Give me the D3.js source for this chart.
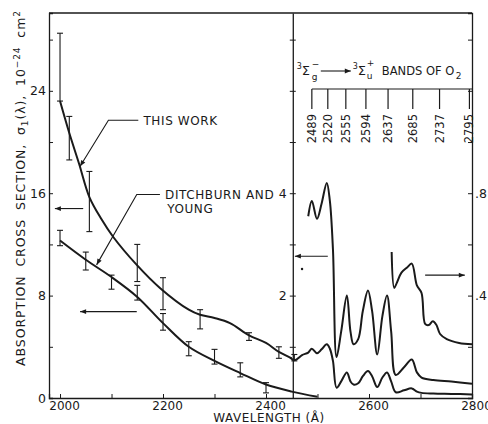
<!DOCTYPE html>
<html>
<head>
<meta charset="utf-8">
<script src="https://cdn.jsdelivr.net/npm/d3@7/dist/d3.min.js"></script>
<style>
  body { margin: 0; background: #fff; }
  svg text { font-family: "DejaVu Sans", sans-serif; fill: #1a1a1a; }
</style>
</head>
<body>
<svg id="chart"></svg>
<script>
// wavelength in Angstrom, cross section in 1e-24 cm^2
const thisWorkWl  = [2000, 2018, 2037, 2057, 2080, 2103, 2149, 2194, 2250, 2272, 2300, 2330, 2367, 2400, 2425, 2450];
const thisWorkVal = [23.2, 20.7, 18.3, 15.7, 14.0, 12.6, 10.4, 8.6, 6.9, 6.5, 6.25, 5.85, 4.9, 4.3, 3.6, 3.1];

const thisWorkErrWl = [2000, 2018, 2057, 2150, 2200, 2272, 2367, 2425, 2455];
const thisWorkErrLo = [23.2, 18.6, 13.0, 9.1, 6.9, 5.4, 4.5, 3.1, 2.9];
const thisWorkErrHi = [28.5, 22.0, 17.7, 12.0, 9.4, 6.9, 5.1, 4.0, 3.4];

// Ditchburn and Young
const dyWl  = [2000, 2050, 2100, 2150, 2200, 2250, 2300, 2350, 2400, 2450, 2500];
const dyVal = [12.3, 10.8, 9.45, 7.9, 5.85, 4.0, 2.9, 1.95, 1.05, 0.5, 0.1];
const dyErrWl = [2000, 2050, 2100, 2150, 2200, 2250, 2300, 2350, 2400];
const dyErrLo = [11.9, 10.0, 8.5, 7.65, 5.3, 3.3, 2.65, 1.65, 0.4];
const dyErrHi = [13.1, 11.4, 9.6, 8.8, 6.6, 4.4, 3.8, 2.75, 1.2];

// band region, this work: read on left axis, and again on the expanded middle axis
const bandWl  = [2447, 2456, 2470, 2482, 2489, 2499, 2508, 2518, 2524, 2530, 2537, 2546, 2557, 2564, 2570, 2579, 2588, 2598, 2606, 2616, 2626, 2635, 2643, 2652, 2668, 2683, 2693, 2702, 2725, 2760, 2800];
const bandVal = [3.15, 2.95, 3.35, 3.55, 3.85, 3.5, 3.8, 4.2, 3.85, 2.9, 0.8, 1.3, 2.0, 1.3, 1.05, 1.15, 1.7, 2.1, 1.7, 0.85, 1.6, 2.0, 1.3, 0.45, 0.6, 0.75, 0.5, 0.4, 0.35, 0.32, 0.28];
const bandExpandedFrom = 2482;

// long wavelength tail, read on the right axis
const tailWl  = [2644, 2649, 2654, 2663, 2674, 2683, 2693, 2702, 2709, 2716, 2724, 2731, 2738, 2751, 2775, 2800];
const tailVal = [0.57, 0.43, 0.45, 0.49, 0.51, 0.525, 0.44, 0.41, 0.29, 0.285, 0.30, 0.285, 0.25, 0.23, 0.215, 0.21];

const bandHeads = [2489, 2520, 2555, 2594, 2637, 2685, 2737, 2795];

const xTicks = [2000, 2100, 2200, 2300, 2400, 2500, 2600, 2700, 2800];
const xLabels = [2000, 2200, 2400, 2600, 2800];
const leftTicks = [0, 4, 8, 12, 16, 20, 24, 28];
const leftLabels = [0, 8, 16, 24];
const midTicks = [1, 2, 3, 4, 5, 6, 7];
const midLabels = [2, 4];
const rightTicks = [0.2, 0.4, 0.6, 0.8, 1.0, 1.2, 1.4];
const rightLabels = [0.4, 0.8];
const midAxisWl = 2452;

class crossSectionChart {
  constructor(_config) {
    this.config = {
      parentElement: _config.parentElement,
      containerWidth: _config.containerWidth || 488,
      containerHeight: _config.containerHeight || 424,
      margin: _config.margin || {top: 13, right: 16, bottom: 26, left: 49}
    };
    this.initVis();
  }

  initVis() {
    let vis = this;
    vis.width = vis.config.containerWidth - vis.config.margin.left - vis.config.margin.right;
    vis.height = vis.config.containerHeight - vis.config.margin.top - vis.config.margin.bottom;

    vis.xScale = d3.scaleLinear().domain([1978.6, 2800]).range([0, vis.width]);
    vis.yScale = d3.scaleLinear().domain([0, 30.08]).range([vis.height, 0]);
    vis.yMid = d3.scaleLinear().domain([0, 30.08 / 4]).range([vis.height, 0]);
    vis.yRight = d3.scaleLinear().domain([0, 30.08 / 20]).range([vis.height, 0]);

    vis.svg = d3.select(vis.config.parentElement)
      .attr('width', vis.config.containerWidth)
      .attr('height', vis.config.containerHeight);

    vis.svg.append('defs').append('marker')
      .attr('id', 'head')
      .attr('viewBox', '0 0 10 10')
      .attr('refX', 10).attr('refY', 5)
      .attr('markerWidth', 9).attr('markerHeight', 6)
      .attr('markerUnits', 'userSpaceOnUse')
      .attr('orient', 'auto')
      .append('path').attr('d', 'M0,1L10,5L0,9Z').attr('fill', '#1a1a1a');

    vis.chart = vis.svg.append('g')
      .attr('transform', `translate(${vis.config.margin.left},${vis.config.margin.top})`);

    vis.renderVis();
  }

  renderVis() {
    let vis = this;
    const x = vis.xScale;
    const ink = '#1a1a1a';

    // axes
    vis.chart.append('g')
      .attr('transform', `translate(0,${vis.height})`)
      .call(d3.axisBottom(x).tickValues(xTicks).tickSize(-4).tickPadding(3)
        .tickFormat(d => xLabels.includes(d) ? d : ''))
      .call(g => g.selectAll('text').attr('dx', 4).style('font-size', '12px'));

    vis.chart.append('g')
      .call(d3.axisLeft(vis.yScale).tickValues(leftTicks).tickSize(-4).tickPadding(3)
        .tickFormat(d => leftLabels.includes(d) ? d : ''))
      .call(g => g.selectAll('text').style('font-size', '12.5px'));

    const xm = x(midAxisWl);
    vis.chart.append('g')
      .attr('transform', `translate(${xm},0)`)
      .call(d3.axisLeft(vis.yMid).tickValues(midTicks).tickSizeInner(3).tickSizeOuter(0).tickPadding(3)
        .tickFormat(d => midLabels.includes(d) ? d : ''))
      .call(g => g.selectAll('.tick line').attr('x2', 3).attr('x1', -3))
      .call(g => g.selectAll('text').style('font-size', '12.5px'));

    vis.chart.append('g')
      .attr('transform', `translate(${vis.width},0)`)
      .call(d3.axisRight(vis.yRight).tickValues(rightTicks).tickSize(-4).tickPadding(3)
        .tickFormat(d => rightLabels.includes(d) ? d3.format('.1f')(d).replace(/^0/, '') : ''))
      .call(g => g.selectAll('text').style('font-size', '12.5px'));

    vis.chart.selectAll('.domain').attr('stroke', ink).attr('stroke-width', 1.3);
    vis.chart.selectAll('.tick line').attr('stroke', ink);
    vis.chart.selectAll('.tick text').attr('fill', ink);

    // top border
    vis.chart.append('line')
      .attr('x1', 0).attr('x2', vis.width).attr('y1', 0).attr('y2', 0)
      .attr('stroke', ink).attr('stroke-width', 1.3);

    // curves
    const lineOn = ys => d3.line()
      .x(d => x(d[0])).y(d => ys(d[1]))
      .curve(d3.curveCatmullRom.alpha(0.5));

    const curves = [
      {data: d3.zip(thisWorkWl, thisWorkVal), ys: vis.yScale},
      {data: d3.zip(dyWl, dyVal), ys: vis.yScale},
      {data: d3.zip(bandWl, bandVal), ys: vis.yScale},
      {data: d3.zip(bandWl, bandVal).filter(d => d[0] >= bandExpandedFrom), ys: vis.yMid},
      {data: d3.zip(tailWl, tailVal), ys: vis.yRight}
    ];
    vis.chart.selectAll('.curve')
      .data(curves)
      .join('path')
      .attr('class', 'curve')
      .attr('d', c => lineOn(c.ys)(c.data))
      .attr('fill', 'none')
      .attr('stroke', ink)
      .attr('stroke-width', 2)
      .attr('stroke-linejoin', 'round');

    // error bars
    const bars = d3.zip(thisWorkErrWl, thisWorkErrLo, thisWorkErrHi)
      .concat(d3.zip(dyErrWl, dyErrLo, dyErrHi));
    const barG = vis.chart.selectAll('.err')
      .data(bars)
      .join('g')
      .attr('class', 'err')
      .attr('stroke', ink)
      .attr('stroke-width', 1.1);
    barG.append('line')
      .attr('x1', d => x(d[0])).attr('x2', d => x(d[0]))
      .attr('y1', d => vis.yScale(d[1])).attr('y2', d => vis.yScale(d[2]));
    barG.append('line')
      .attr('x1', d => x(d[0]) - 3).attr('x2', d => x(d[0]) + 3)
      .attr('y1', d => vis.yScale(d[1])).attr('y2', d => vis.yScale(d[1]));
    barG.append('line')
      .attr('x1', d => x(d[0]) - 3).attr('x2', d => x(d[0]) + 3)
      .attr('y1', d => vis.yScale(d[2])).attr('y2', d => vis.yScale(d[2]));

    // band head bracket
    const bracketY = 76;
    vis.chart.append('line')
      .attr('x1', x(bandHeads[0])).attr('x2', vis.width)
      .attr('y1', bracketY).attr('y2', bracketY)
      .attr('stroke', ink).attr('stroke-width', 1.2);
    vis.chart.selectAll('.head')
      .data(bandHeads)
      .join('line')
      .attr('class', 'head')
      .attr('x1', d => x(d)).attr('x2', d => x(d))
      .attr('y1', bracketY).attr('y2', bracketY + 20)
      .attr('stroke', ink).attr('stroke-width', 1.2);
    vis.chart.selectAll('.headLabel')
      .data(bandHeads)
      .join('text')
      .attr('class', 'headLabel')
      .attr('transform', d => `translate(${x(d)},${bracketY + 25}) rotate(-90)`)
      .attr('text-anchor', 'end')
      .attr('dy', '0.35em')
      .style('font-size', '11.5px')
      .text(d => d);

    // band title
    const bt = vis.chart.append('g').attr('transform', `translate(${xm + 4},${bracketY - 14})`);
    const piece = (px, py, s, size) => bt.append('text').attr('x', px).attr('y', py)
      .style('font-size', size + 'px').text(s);
    piece(0, -6, '3', 8);
    piece(5, 0, 'Σ', 13);
    piece(15, 5, 'g', 9);
    piece(15, -8, '−', 9);
    bt.append('line').attr('x1', 24).attr('x2', 54).attr('y1', -4).attr('y2', -4)
      .attr('stroke', ink).attr('stroke-width', 1.1).attr('marker-end', 'url(#head)');
    piece(56, -6, '3', 8);
    piece(61, 0, 'Σ', 13);
    piece(70, 4, 'u', 9);
    piece(70, -9, '+', 9);
    piece(85, 0, 'BANDS OF O', 11.5);
    piece(159, 4, '2', 9);

    // leaders and axis arrows, in data units
    const leader = (pts, ys) => vis.chart.append('path')
      .attr('d', d3.line().x(d => x(d[0])).y(d => ys(d[1]))(pts))
      .attr('fill', 'none').attr('stroke', ink).attr('stroke-width', 1.1)
      .attr('marker-end', 'url(#head)');

    leader([[2152, 21.7], [2094, 21.7], [2039, 18.1]], vis.yScale);
    leader([[2194, 15.9], [2149, 15.9], [2071, 10.4]], vis.yScale);
    leader([[2045, 14.8], [1990, 14.8]], vis.yScale);
    leader([[2149, 6.75], [2039, 6.75]], vis.yScale);
    leader([[2520, 2.77], [2456, 2.77]], vis.yMid);
    leader([[2709, 0.48], [2786, 0.48]], vis.yRight);

    vis.chart.append('circle')
      .attr('cx', x(2470)).attr('cy', vis.yMid(2.52)).attr('r', 1.2).attr('fill', ink);

    vis.chart.append('text')
      .attr('x', x(2162)).attr('y', vis.yScale(21.7) + 4.5)
      .style('font-size', '12px').style('letter-spacing', '0.6px')
      .text('THIS WORK');
    vis.chart.append('text')
      .attr('x', x(2204)).attr('y', vis.yScale(15.9) + 4.5)
      .style('font-size', '12px').style('letter-spacing', '0.6px')
      .text('DITCHBURN AND');
    vis.chart.append('text')
      .attr('x', x(2208)).attr('y', vis.yScale(15.9) + 18.5)
      .style('font-size', '12px').style('letter-spacing', '0.6px')
      .text('YOUNG');

    // axis titles
    vis.svg.append('text')
      .attr('x', 269).attr('y', 422)
      .attr('text-anchor', 'middle')
      .style('font-size', '12px').style('letter-spacing', '0.5px')
      .text('WAVELENGTH (Å)');

    const yt = vis.svg.append('text')
      .attr('transform', 'translate(25,188) rotate(-90)')
      .attr('text-anchor', 'middle')
      .style('font-size', '12.5px').style('letter-spacing', '0.9px').style('word-spacing', '4px');
    yt.append('tspan').text('ABSORPTION CROSS SECTION, σ');
    yt.append('tspan').attr('dy', 3).style('font-size', '9px').text('1');
    yt.append('tspan').attr('dy', -3).text('(λ), 10');
    yt.append('tspan').attr('dy', -5).style('font-size', '9px').text('−24');
    yt.append('tspan').attr('dy', 5).text(' cm');
    yt.append('tspan').attr('dy', -5).style('font-size', '9px').text('2');
  }
}

new crossSectionChart({parentElement: '#chart'});
</script>
</body>
</html>
